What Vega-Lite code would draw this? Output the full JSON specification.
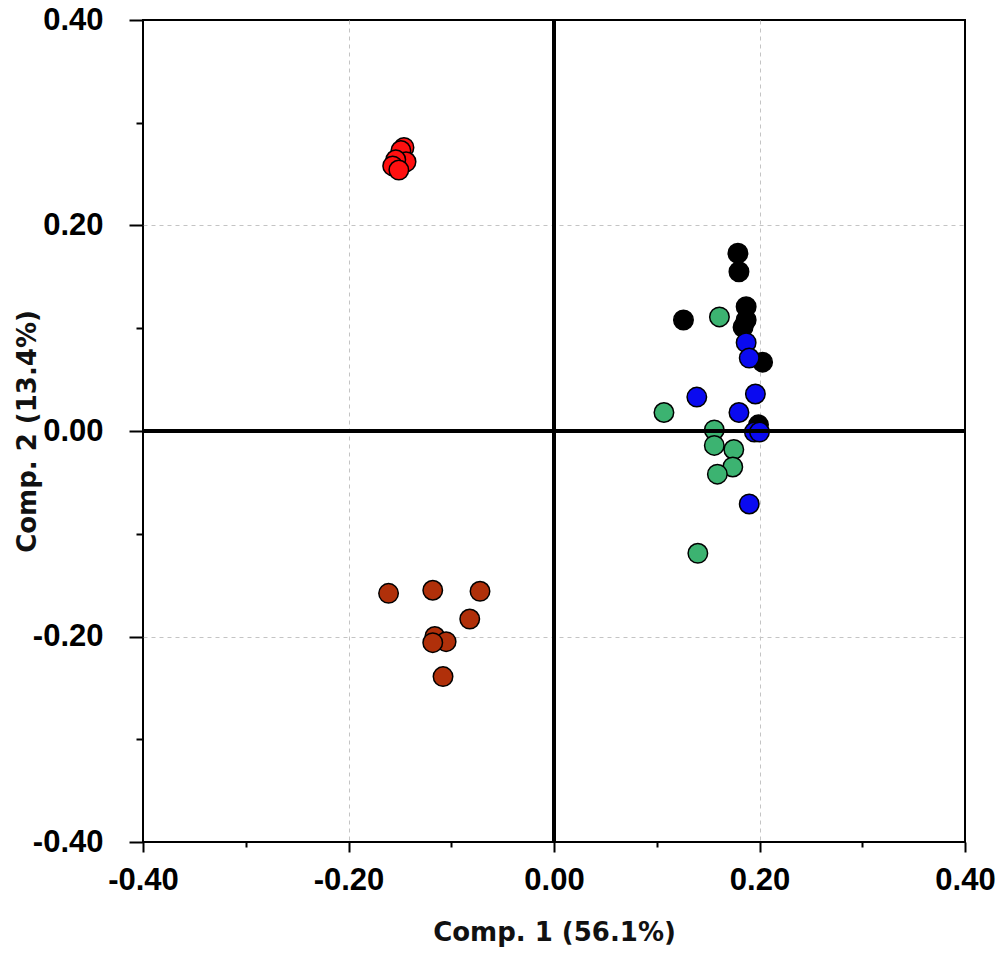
{
  "$schema": "https://vega.github.io/schema/vega-lite/v6.json",
  "width": 822,
  "height": 822,
  "autosize": "none",
  "padding": {"left": 143, "top": 20, "right": 35, "bottom": 115},
  "background": "white",
  "view": {"stroke": "#000", "strokeWidth": 2},
  "data": {
    "values": [
      {"g": "red", "x": -0.146, "y": 0.276},
      {"g": "red", "x": -0.149, "y": 0.273},
      {"g": "red", "x": -0.144, "y": 0.262},
      {"g": "red", "x": -0.154, "y": 0.264},
      {"g": "red", "x": -0.157, "y": 0.258},
      {"g": "red", "x": -0.151, "y": 0.254},
      {"g": "brown", "x": -0.161, "y": -0.158},
      {"g": "brown", "x": -0.118, "y": -0.155},
      {"g": "brown", "x": -0.072, "y": -0.156},
      {"g": "brown", "x": -0.082, "y": -0.183},
      {"g": "brown", "x": -0.116, "y": -0.200},
      {"g": "brown", "x": -0.105, "y": -0.205},
      {"g": "brown", "x": -0.118, "y": -0.206},
      {"g": "brown", "x": -0.108, "y": -0.239},
      {"g": "black", "x": 0.179, "y": 0.173},
      {"g": "black", "x": 0.180, "y": 0.155},
      {"g": "black", "x": 0.126, "y": 0.108},
      {"g": "black", "x": 0.187, "y": 0.121},
      {"g": "black", "x": 0.187, "y": 0.108},
      {"g": "black", "x": 0.184, "y": 0.101},
      {"g": "black", "x": 0.203, "y": 0.067},
      {"g": "black", "x": 0.199, "y": 0.006},
      {"g": "green", "x": 0.161, "y": 0.111},
      {"g": "green", "x": 0.107, "y": 0.018},
      {"g": "green", "x": 0.156, "y": 0.001},
      {"g": "green", "x": 0.156, "y": -0.014},
      {"g": "green", "x": 0.175, "y": -0.018},
      {"g": "green", "x": 0.174, "y": -0.035},
      {"g": "green", "x": 0.159, "y": -0.042},
      {"g": "green", "x": 0.140, "y": -0.119},
      {"g": "blue", "x": 0.187, "y": 0.086},
      {"g": "blue", "x": 0.190, "y": 0.071},
      {"g": "blue", "x": 0.139, "y": 0.033},
      {"g": "blue", "x": 0.196, "y": 0.036},
      {"g": "blue", "x": 0.180, "y": 0.018},
      {"g": "blue", "x": 0.195, "y": -0.001},
      {"g": "blue", "x": 0.200, "y": -0.001},
      {"g": "blue", "x": 0.190, "y": -0.071}
    ]
  },
  "layer": [
    {
      "mark": {"type": "point", "filled": true, "shape": "circle", "size": 380, "stroke": "#000", "strokeWidth": 1.5, "opacity": 1},
      "encoding": {
        "x": {
          "field": "x", "type": "quantitative",
          "scale": {"domain": [-0.4, 0.4], "nice": false, "zero": false},
          "axis": {
            "values": [-0.4, -0.3, -0.2, -0.1, 0, 0.1, 0.2, 0.3, 0.4],
            "labelExpr": "abs(round(datum.value*10)) % 2 == 1 ? '' : replace(format(datum.value, '.2f'), '\u2212', '-')",
            "domain": false,
            "grid": true,
            "gridColor": "#c4c4c4",
            "gridDash": [4, 4],
            "gridWidth": 1,
            "gridOpacity": {"condition": {"test": "abs(round(datum.value*10)) % 2 == 1 || abs(datum.value) > 0.35", "value": 0}, "value": 1},
            "ticks": true,
            "tickColor": "#000",
            "tickWidth": 2,
            "tickSize": {"condition": {"test": "abs(round(datum.value*10)) % 2 == 1", "value": 5}, "value": 10},
            "labelFont": "Liberation Sans",
            "labelFontWeight": "bold",
            "labelFontSize": 31,
            "labelColor": "#000",
            "labelPadding": 13,
            "labelFlush": false,
            "labelOverlap": false,
            "title": "Comp. 1 (56.1%)",
            "titleFont": "DejaVu Sans",
            "titleFontWeight": "bold",
            "titleFontSize": 26,
            "titleColor": "#111",
            "titlePadding": 24
          }
        },
        "y": {
          "field": "y", "type": "quantitative",
          "scale": {"domain": [-0.4, 0.4], "nice": false, "zero": false},
          "axis": {
            "values": [-0.4, -0.3, -0.2, -0.1, 0, 0.1, 0.2, 0.3, 0.4],
            "labelExpr": "abs(round(datum.value*10)) % 2 == 1 ? '' : replace(format(datum.value, '.2f'), '\u2212', '-')",
            "domain": false,
            "grid": true,
            "gridColor": "#c4c4c4",
            "gridDash": [4, 4],
            "gridWidth": 1,
            "gridOpacity": {"condition": {"test": "abs(round(datum.value*10)) % 2 == 1 || abs(datum.value) > 0.35", "value": 0}, "value": 1},
            "ticks": true,
            "tickColor": "#000",
            "tickWidth": 2,
            "tickSize": {"condition": {"test": "abs(round(datum.value*10)) % 2 == 1", "value": 7}, "value": 14},
            "labelFont": "Liberation Sans",
            "labelFontWeight": "bold",
            "labelFontSize": 31,
            "labelColor": "#000",
            "labelPadding": 26,
            "labelFlush": false,
            "labelOverlap": false,
            "title": "Comp. 2 (13.4%)",
            "titleFont": "DejaVu Sans",
            "titleFontWeight": "bold",
            "titleFontSize": 26,
            "titleColor": "#111",
            "titlePadding": -8
          }
        },
        "color": {
          "field": "g", "type": "nominal",
          "scale": {
            "domain": ["red", "brown", "black", "green", "blue"],
            "range": ["#ff1010", "#b0300a", "#000000", "#3cb371", "#0a0af0"]
          },
          "legend": null
        }
      }
    },
    {
      "mark": {"type": "rule", "color": "#000", "strokeWidth": 2.5},
      "encoding": {"y": {"datum": 0}}
    },
    {
      "mark": {"type": "rule", "color": "#000", "strokeWidth": 2.5},
      "encoding": {"x": {"datum": 0}}
    }
  ]
}
